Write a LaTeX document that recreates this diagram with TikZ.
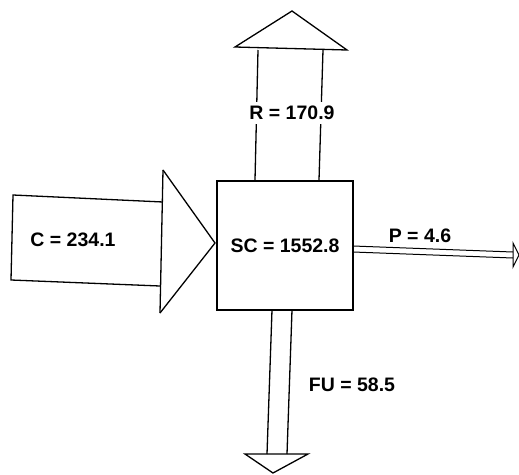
\documentclass[tikz,border=0pt]{standalone}
\usepackage{fontspec}
\setmainfont{Liberation Sans}
\begin{document}
\begin{tikzpicture}[x=1pt,y=-1pt,line width=1.3pt,
  lbl/.style={font=\fontsize{19.5}{22}\selectfont\bfseries, inner sep=1pt},
  flow/.style={draw=black, line join=miter}]
\useasboundingbox (0,0) rectangle (519,474);
% main box
\node[draw, minimum width=136pt, minimum height=129pt, inner sep=0pt, line width=1.5pt, lbl] (SC) at (285,245.5) {SC = 1552.8};
% C inflow
\draw[flow] (163,202) -- (13,195) -- (11,280) -- (160,286);
\draw[flow] (163,170) -- (160,313);
\draw[flow] (163,170) -- (215,243) -- (160,313);
\node[lbl] (C) at (73,240) {C = 234.1};
% R outflow (up)
\draw[flow] (255,180) -- (258,50);
\draw[flow] (319,180) -- (323,50);
\draw[flow] (235,47) -- (292,11) -- (347,50) -- cycle;
\node[lbl, fill=white, inner ysep=4pt] (R) at (292,113) {R = 170.9};
% P outflow (right)
\draw[line width=1pt] (353,246) -- (513,252);
\draw[line width=1pt] (353,252) -- (513,258);
\draw[line width=1pt] (513,243) -- (519,255) -- (513,267) -- cycle;
\node[lbl] (P) at (420,236) {P = 4.6};
% FU outflow (down)
\draw[flow] (272,310) -- (267,454);
\draw[flow] (292,310) -- (287,454);
\draw[flow] (245,454) -- (308,454) -- (273,473) -- cycle;
\node[lbl] (FU) at (352,385) {FU = 58.5};
\end{tikzpicture}
\end{document}
